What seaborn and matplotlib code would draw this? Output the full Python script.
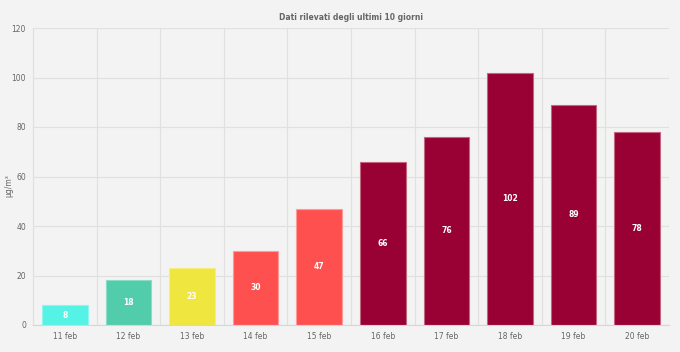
import matplotlib
matplotlib.use('Agg')
import matplotlib.pyplot as plt
import seaborn as sns
import pandas as pd
import numpy as np

giorni = ['11 feb', '12 feb', '13 feb', '14 feb', '15 feb',
          '16 feb', '17 feb', '18 feb', '19 feb', '20 feb']
valori = [8, 18, 23, 30, 47, 66, 76, 102, 89, 78]
colori = ['#55f2e6', '#52cdac', '#f0e640', '#ff5050', '#ff5050',
          '#990033', '#990033', '#990033', '#990033', '#990033']
bordi = ['#8ff6ee', '#8adcc5', '#f5ee80', '#ff9a9a', '#ff9a9a',
         '#c26680', '#c26680', '#c26680', '#c26680', '#c26680']

sns.set_theme(style='white')
plt.rcParams['font.family'] = ['DejaVu Sans']

df = pd.DataFrame({'giorno': giorni, 'valore': valori})

fig = plt.figure(figsize=(6.8, 3.52), dpi=100, facecolor='#f3f3f3')
ax = fig.add_axes([33 / 680, 1 - 325 / 352, 636 / 680, 297 / 352])
ax.set_facecolor('#f3f3f3')

sns.barplot(data=df, x='giorno', y='valore', hue='giorno', palette=colori,
            legend=False, width=0.72, ax=ax, saturation=1, linewidth=0.8)
for patch, b in zip(ax.patches, bordi):
    patch.set_edgecolor(b)

# etichette dentro le barre
for i, v in enumerate(valori):
    ax.text(i, v / 2, str(v), ha='center', va='center', color='white',
            fontsize=5.5, fontweight='bold')

ax.set_ylim(0, 120)
ax.set_xlim(-0.5, len(giorni) - 0.5)
ax.set_yticks(np.arange(0, 121, 20))
ax.set_xticks(np.arange(-0.5, len(giorni), 1), minor=True)
ax.grid(axis='y', color='#e0e0e0', linewidth=0.8)
ax.grid(axis='x', which='minor', color='#e0e0e0', linewidth=0.8)
ax.set_axisbelow(True)
ax.tick_params(axis='x', which='major', length=0, labelsize=5.5, labelcolor='#666666', pad=5)
ax.tick_params(axis='x', which='minor', length=4, color='#e0e0e0', width=0.8)
ax.tick_params(axis='y', length=3, color='#e0e0e0', width=0.8, labelsize=5.5, labelcolor='#666666', pad=2)
for s in ['top', 'right']:
    ax.spines[s].set_visible(False)
ax.spines['left'].set_color('#e0e0e0')
ax.spines['bottom'].set_color('#d6d6d6')
ax.spines['left'].set_linewidth(0.8)
ax.spines['bottom'].set_linewidth(0.8)

ax.set_xlabel('')
ax.set_ylabel('µg/m³', fontsize=5.5, color='#666666')
ax.yaxis.set_label_coords(-20 / 636, 0.47)
fig.text(351 / 680, 1 - 17 / 352, 'Dati rilevati degli ultimi 10 giorni',
         ha='center', va='center', fontsize=5.5, fontweight='bold', color='#666666')

fig.savefig('out.png', dpi=100, facecolor=fig.get_facecolor())
